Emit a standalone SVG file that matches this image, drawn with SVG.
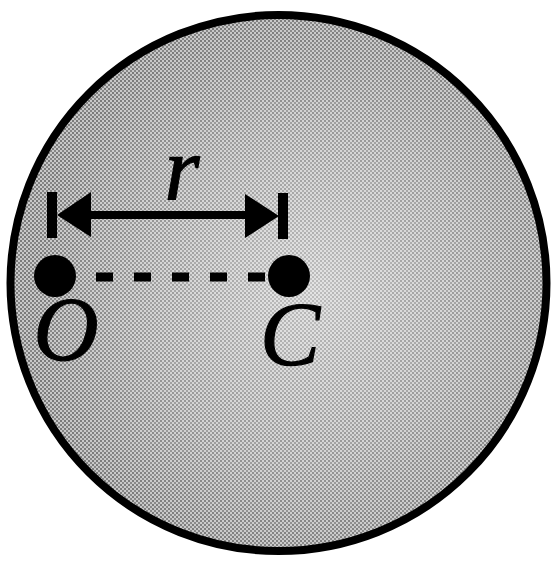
<svg xmlns="http://www.w3.org/2000/svg" width="556" height="563" viewBox="0 0 556 563">
  <defs>
    <pattern id="dots" width="4" height="4" patternUnits="userSpaceOnUse">
      <rect width="4" height="4" fill="#c8c8c8"/>
      <rect x="0" y="0" width="2" height="2" fill="#7a7a7a"/>
      <rect x="2" y="2" width="2" height="2" fill="#868686"/>
    </pattern>
    <radialGradient id="glow" cx="310" cy="290" r="280" gradientUnits="userSpaceOnUse">
      <stop offset="0" stop-color="#ffffff" stop-opacity="0.5"/>
      <stop offset="0.6" stop-color="#ffffff" stop-opacity="0.22"/>
      <stop offset="1" stop-color="#ffffff" stop-opacity="0"/>
    </radialGradient>
    <style>
      .lbl { font-family: "Liberation Serif", "Times New Roman", serif; font-style: italic; font-size: 90px; fill: #000; text-anchor: middle; stroke: #000; stroke-width: 1.2px; }
      .bar { fill: #000; }
    </style>
  </defs>

  <rect width="556" height="563" fill="#ffffff"/>

  <g id="disk">
    <circle cx="278.5" cy="283" r="268" fill="url(#dots)"/>
    <circle cx="278.5" cy="283" r="268" fill="url(#glow)"/>
    <circle cx="278.5" cy="283" r="268" fill="none" stroke="#000" stroke-width="8"/>
  </g>

  <g id="connectors">
    <!-- dimension r -->
    <rect class="bar" x="47" y="192" width="10" height="46"/>
    <rect class="bar" x="278" y="193" width="10" height="46"/>
    <rect class="bar" x="80" y="211" width="176" height="8"/>
    <polygon class="bar" points="57,215 91,192 91,237"/>
    <polygon class="bar" points="279,216 245,194 245,238"/>
    <!-- dashed line O-C -->
    <line x1="96" y1="277" x2="268" y2="277" stroke="#000" stroke-width="9" stroke-dasharray="17 21"/>
  </g>

  <g id="O">
    <circle cx="55" cy="276" r="21" fill="#000"/>
    <text class="lbl" x="66" y="360">O</text>
  </g>

  <g id="C">
    <circle cx="289" cy="276" r="21" fill="#000"/>
    <text class="lbl" x="290" y="365">C</text>
  </g>

  <g id="r-label">
    <text class="lbl" x="182" y="199">r</text>
  </g>
</svg>
